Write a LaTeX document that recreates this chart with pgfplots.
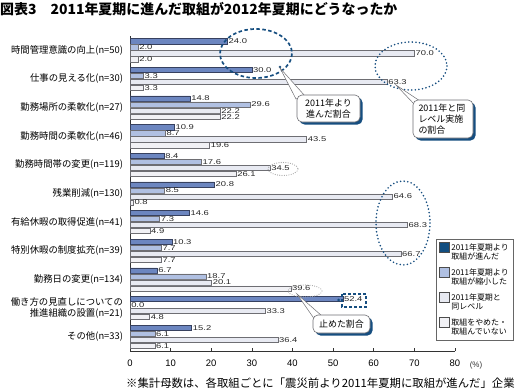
\documentclass[border=0pt]{standalone}
\usepackage{fontspec}
\setmainfont{Noto Sans CJK JP}
\newfontfamily\valfont[FakeStretch=1.35]{Liberation Sans}
\newfontfamily\tickfont{Liberation Sans}
\usepackage{pgfplots}
\pgfplotsset{compat=1.18}
\definecolor{s1}{RGB}{108,134,192}
\definecolor{s1e}{RGB}{55,65,95}
\definecolor{s2}{RGB}{176,192,226}
\definecolor{s3}{RGB}{232,234,242}
\definecolor{s4}{RGB}{241,241,245}
\definecolor{navy}{RGB}{22,78,128}
\definecolor{l1}{RGB}{18,78,128}
\definecolor{edge}{RGB}{110,110,115}
\begin{document}
\begin{tikzpicture}
\path[use as bounding box] (0,0) rectangle (521bp,-390bp);
\begin{axis}[
  at={(130bp,-351bp)}, anchor=south west,
  scale only axis, width=325bp, height=315bp,
  xbar, bar width=5.2bp,
  xmin=0, xmax=80, ymin=-0.5, ymax=10.5, y dir=reverse,
  enlargelimits=false, clip=false,
  axis x line=bottom, axis y line=left,
  axis line style={-, draw=black!80, line width=0.6bp},
  xtick={0,10,...,80}, xtick align=inside, major tick length=3bp,
  xtick style={draw=black!80, line width=0.6bp},
  ytick={0,...,10}, ytick style={draw=none},
  yticklabels={時間管理意識の向上(n=50),仕事の見える化(n=30),勤務場所の柔軟化(n=27),勤務時間の柔軟化(n=46),勤務時間帯の変更(n=119),残業削減(n=130),有給休暇の取得促進(n=41),特別休暇の制度拡充(n=39),勤務日の変更(n=134),{働き方の見直しについての\\推進組織の設置(n=21)},その他(n=33)},
  yticklabel style={align=right, font=\fontsize{9.4}{11.5}\selectfont, xshift=-2bp},
  xticklabel style={font=\tickfont\fontsize{9.5}{10}\selectfont, yshift=-5bp},
  /pgf/number format/assume math mode=true,
  point meta=x,
  nodes near coords={\pgfmathprintnumber[fixed,fixed zerofill,precision=1]{\pgfplotspointmeta}},
  nodes near coords style={font=\valfont\fontsize{7}{8}\selectfont, inner sep=1bp, text=black!85},
  legend image code/.code={\draw[#1,line width=0.5bp] (0bp,7.2bp) rectangle (10bp,17.2bp);},
  legend style={at={(1.1815,0.032)}, anchor=south east, draw=black!60, line width=0.5bp,
    font=\fontsize{8}{9}\selectfont, cells={align=left, anchor=base west}, row sep=4bp,
    inner xsep=3bp, inner ysep=2.5bp},
]
\addplot[forget plot, fill=s1, draw=s1e, line width=0.5bp, bar shift=9bp] coordinates {(24.0,0) (30.0,1) (14.8,2) (10.9,3) (8.4,4) (20.8,5) (14.6,6) (10.3,7) (6.7,8) (52.4,9) (15.2,10)};
\addplot[forget plot, fill=s2, draw=edge, line width=0.5bp, bar shift=3bp] coordinates {(2.0,0) (3.3,1) (29.6,2) (8.7,3) (17.6,4) (8.5,5) (7.3,6) (7.7,7) (18.7,8) (0.0,9) (6.1,10)};
\addplot[forget plot, fill=s3, draw=edge, line width=0.5bp, bar shift=-3bp] coordinates {(70.0,0) (63.3,1) (22.2,2) (43.5,3) (34.5,4) (64.6,5) (68.3,6) (66.7,7) (20.1,8) (33.3,9) (36.4,10)};
\addplot[forget plot, fill=s4, draw=edge, line width=0.5bp, bar shift=-9bp] coordinates {(2.0,0) (3.3,1) (22.2,2) (19.6,3) (26.1,4) (0.8,5) (4.9,6) (7.7,7) (39.6,8) (4.8,9) (6.1,10)};
\addlegendimage{fill=l1, draw=black!70}
\addlegendentry{2011年夏期より\\取組が進んだ}
\addlegendimage{fill=s2, draw=black!70}
\addlegendentry{2011年夏期より\\取組が縮小した}
\addlegendimage{fill=s3, draw=black!70}
\addlegendentry{2011年夏期と\\同レベル}
\addlegendimage{fill=s4, draw=black!70}
\addlegendentry{取組をやめた・\\取組んでいない}
\end{axis}
\begin{scope}[x=1bp,y=-1bp]
\node[anchor=west, inner sep=0, font=\bfseries\fontsize{14}{15}\selectfont] at (0,9) {図表3　2011年夏期に進んだ取組が2012年夏期にどうなったか};
\node[font=\tickfont\fontsize{8}{9}\selectfont, text=black!80] at (476,365) {(\%)};
\node[anchor=west, inner sep=0, font=\fontsize{11.4}{12}\selectfont] at (126,383) {※集計母数は、各取組ごとに「震災前より2011年夏期に取組が進んだ」企業};
% ellipses
\draw[navy, line width=1.7bp, dash pattern=on 3.5bp off 2.5bp] (256,53.5) ellipse [x radius=36, y radius=24.5];
\draw[navy, line width=1.8bp, line cap=round, dash pattern=on 0bp off 3.6bp] (411,66) ellipse [x radius=36, y radius=24];
\draw[navy, line width=1.8bp, line cap=round, dash pattern=on 0bp off 3.6bp] (403,223) ellipse [x radius=27, y radius=42];
\draw[gray!70, line width=1.2bp, line cap=round, dash pattern=on 0bp off 2.3bp] (283,169) ellipse [x radius=15, y radius=6.5];
\draw[gray!70, line width=1.2bp, line cap=round, dash pattern=on 0bp off 2.3bp] (305,291) ellipse [x radius=17, y radius=6];
\draw[navy, line width=1.5bp, dash pattern=on 3bp off 2bp] (342,294) rectangle (366,307);
\fill[navy] (338.5,300) circle [radius=1.5];
\fill[navy] (280,67) circle [radius=1.3];
% callout 1
\filldraw[fill=white, draw=edge, line width=0.5bp] (280,68) -- (296,99) -- (305,96) -- cycle;
\fill[navy, rounded corners=5bp] (299.5,97.5) rectangle (362.5,124.5);
\filldraw[fill=white, draw=edge, line width=0.6bp, rounded corners=5bp] (297,95) rectangle (360,122);
\node[align=center, font=\fontsize{9}{11}\selectfont] at (328.5,108.5) {2011年より\\進んだ割合};
% callout 2
\filldraw[fill=white, draw=edge, line width=0.5bp] (396,85) -- (414,104) -- (420,101) -- cycle;
\fill[navy, rounded corners=5bp] (415.5,102.5) rectangle (475.5,140.5);
\filldraw[fill=white, draw=edge, line width=0.6bp, rounded corners=5bp] (413,100) rectangle (473,138);
\node[align=left, anchor=west, font=\fontsize{9}{11}\selectfont] at (415,119) {2011年と同\\レベル実施\\の割合};
% callout 3
\filldraw[fill=white, draw=edge, line width=0.5bp] (297,294) -- (315,320) -- (322,316) -- cycle;
\fill[navy, rounded corners=5bp] (315.5,317.5) rectangle (372.5,335.5);
\filldraw[fill=white, draw=edge, line width=0.6bp, rounded corners=5bp] (313,315) rectangle (370,333);
\node[font=\fontsize{9}{11}\selectfont] at (341.5,324) {止めた割合};
\end{scope}
\end{tikzpicture}
\end{document}
